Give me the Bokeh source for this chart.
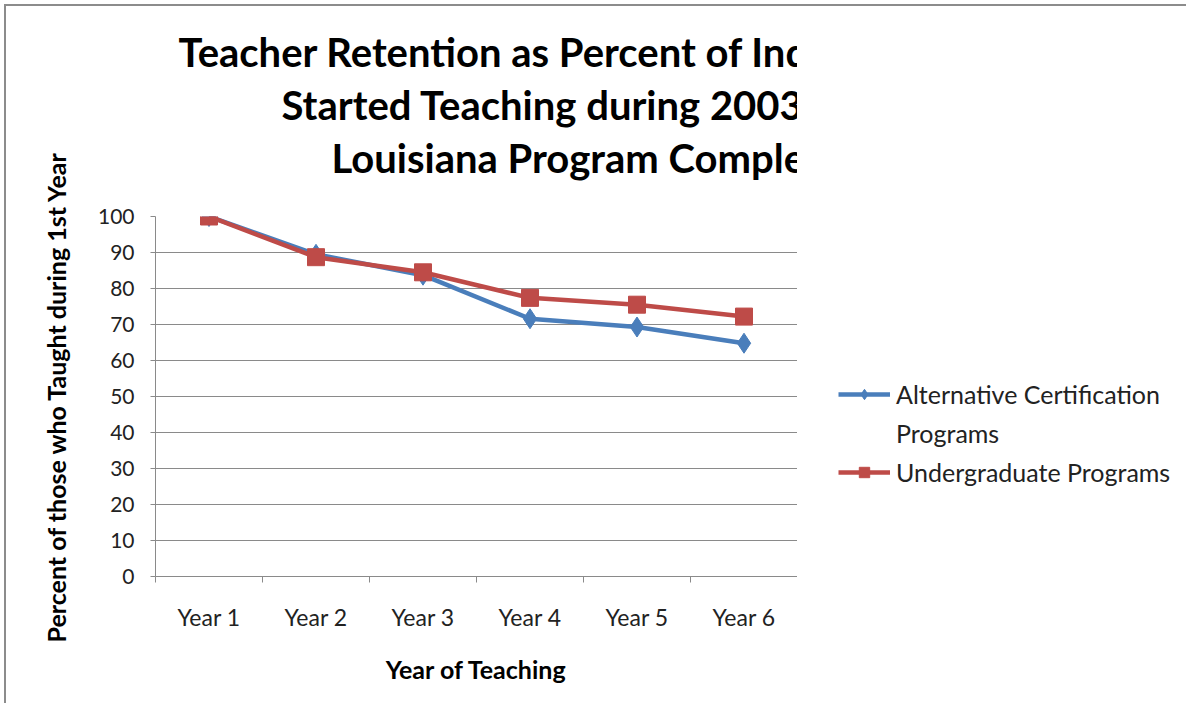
from bokeh.plotting import figure
from bokeh.models import Range1d, FixedTicker, Legend, LegendItem, Title
from bokeh.layouts import row
from bokeh.embed import file_html
from bokeh.resources import INLINE

categories = ["Year 1", "Year 2", "Year 3", "Year 4", "Year 5", "Year 6"]
alt_cert = [100, 89.5, 83.7, 71.6, 69.3, 64.8]
undergrad = [100, 88.7, 84.5, 77.4, 75.5, 72.2]
y_ticks = [0, 10, 20, 30, 40, 50, 60, 70, 80, 90, 100]
series_names = [["Alternative Certification", "Programs"], ["Undergraduate Programs"]]
title_lines = ["Teacher Retention as Percent of Individuals who",
               "Started Teaching during 2003-2004:",
               "Louisiana Program Completers"]
title_offsets = [23, 126, 176]

FONT = "Lato"
BLUE = "#4A7EBB"
RED = "#BE4B48"
GRID = "#8a8a8a"
H = 697
MAIN_W = 791
LEG_W = 389
B_TOP = 210
B_BOTTOM = 127

xs = list(range(1, len(categories) + 1))

# ---------------- main chart ----------------
p = figure(width=MAIN_W, height=H, output_backend="svg", toolbar_location=None,
           x_range=Range1d(0.5, len(categories) + 0.5), y_range=Range1d(0, 100),
           min_border_left=149, min_border_top=B_TOP, min_border_bottom=B_BOTTOM,
           min_border_right=0)
p.outline_line_color = None

p.add_layout(Title(text=" ", text_font_size="10px", standoff=20), "above")
for line, off in reversed(list(zip(title_lines, title_offsets))):
    p.add_layout(Title(text=line, align="left", offset=off, standoff=3,
                       text_font=FONT, text_font_style="bold", text_font_size="40px",
                       text_color="black"), "above")

p.xaxis.ticker = FixedTicker(ticks=xs, minor_ticks=[x - 0.5 for x in xs] + [xs[-1] + 0.5])
p.xaxis.major_label_overrides = {x: c for x, c in zip(xs, categories)}
p.xaxis.major_tick_out = 0
p.xaxis.major_tick_in = 0
p.xaxis.minor_tick_out = 6
p.xaxis.minor_tick_in = 0
p.xaxis.minor_tick_line_color = GRID
p.xaxis.axis_line_color = GRID
p.xaxis.major_label_text_font = FONT
p.xaxis.major_label_text_font_size = "23px"
p.xaxis.major_label_text_color = "#222222"
p.xaxis.major_label_standoff = 20
p.xaxis.axis_label = "Year of Teaching"
p.xaxis.axis_label_text_font = FONT
p.xaxis.axis_label_text_font_style = "bold"
p.xaxis.axis_label_text_font_size = "25px"
p.xaxis.axis_label_text_color = "black"
p.xaxis.axis_label_standoff = 20
p.xgrid.grid_line_color = None

p.yaxis.ticker = FixedTicker(ticks=y_ticks)
p.yaxis.major_tick_out = 5
p.yaxis.major_tick_in = 0
p.yaxis.minor_tick_line_color = None
p.yaxis.major_tick_line_color = GRID
p.yaxis.axis_line_color = GRID
p.yaxis.major_label_text_font = FONT
p.yaxis.major_label_text_font_size = "21px"
p.yaxis.major_label_text_color = "#222222"
p.yaxis.major_label_standoff = 16
p.yaxis.axis_label = "Percent of those who Taught during 1st Year"
p.yaxis.axis_label_text_font = FONT
p.yaxis.axis_label_text_font_style = "bold"
p.yaxis.axis_label_text_font_size = "25px"
p.yaxis.axis_label_text_color = "black"
p.yaxis.axis_label_standoff = 24
p.ygrid.grid_line_color = GRID
p.ygrid.grid_line_width = 1

p.line(xs, alt_cert, line_color=BLUE, line_width=4.5)
p.scatter(xs, alt_cert, marker="diamond", size=20, fill_color=BLUE, line_color=BLUE)
p.line(xs, undergrad, line_color=RED, line_width=4.5)
p.scatter(xs, undergrad, marker="square", size=17, fill_color=RED, line_color=RED)

# ---------------- legend panel (own figure, data kept out of its view) ----------------
lf = figure(width=LEG_W, height=H, output_backend="svg", toolbar_location=None,
            x_range=Range1d(0, 0.5), y_range=Range1d(0, 1),
            x_axis_location=None, y_axis_location=None,
            min_border_left=0, min_border_right=0,
            min_border_top=B_TOP, min_border_bottom=B_BOTTOM)
lf.outline_line_color = None
lf.grid.grid_line_color = None
g1 = lf.line(xs, alt_cert, line_color=BLUE, line_width=4.5)
d1 = lf.scatter(xs, alt_cert, marker="diamond", size=20, fill_color=BLUE, line_color=BLUE)
wrap = lf.line(xs[:1], alt_cert[:1], line_alpha=0)
g2 = lf.line(xs, undergrad, line_color=RED, line_width=4.5)
d2 = lf.scatter(xs, undergrad, marker="square", size=17, fill_color=RED, line_color=RED)

legend = Legend(items=[
    LegendItem(label=series_names[0][0], renderers=[g1, d1]),
    LegendItem(label=series_names[0][1], renderers=[wrap]),
    LegendItem(label=series_names[1][0], renderers=[g2, d2]),
], location=(41, 89))
legend.border_line_color = None
legend.background_fill_alpha = 0
legend.padding = 0
legend.margin = 0
legend.spacing = 9
legend.glyph_width = 52
legend.glyph_height = 26
legend.label_standoff = 6
legend.label_text_font = FONT
legend.label_text_font_size = "25px"
legend.label_text_color = "#222222"
lf.add_layout(legend, "center")

layout = row(p, lf, spacing=0)
layout.styles = {"margin-left": "4px", "margin-top": "4px",
                 "border-top": "2px solid #8c8c8c", "border-left": "2px solid #8c8c8c"}

open("out.html", "w").write(file_html(layout, INLINE))
